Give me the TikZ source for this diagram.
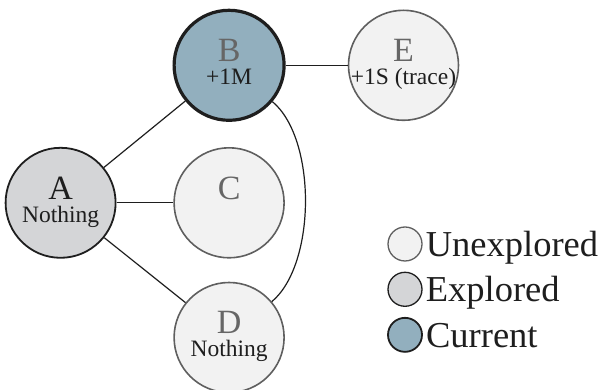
\documentclass[tikz,border=0pt]{standalone}
\usepackage{fontspec}
\setmainfont{Liberation Serif}
\usetikzlibrary{matrix,positioning,calc}

\definecolor{unexfill}{HTML}{F2F2F2}
\definecolor{unexline}{HTML}{5F5F5F}
\definecolor{expfill}{HTML}{D4D5D7}
\definecolor{curfill}{HTML}{92AFBE}
\definecolor{darkline}{HTML}{1E1E1E}
\definecolor{lettergrey}{HTML}{666666}

\begin{document}
\begin{tikzpicture}[x=1pt, y=1pt]
    \tikzstyle{state}=[circle, minimum size=110pt, inner sep=0pt, align=center, text=darkline, font=\fontsize{23.5}{23}\selectfont]
    \tikzstyle{unexplored}=[state, fill=unexfill, draw=unexline, line width=1.6pt]
    \tikzstyle{explored}=[state, fill=expfill, draw=darkline, line width=1.8pt]
    \tikzstyle{current}=[state, fill=curfill, draw=darkline, line width=3.2pt]
    \tikzstyle{link}=[draw=darkline, line width=1.2pt]
    \tikzstyle{legdot}=[minimum size=34pt, line width=1.3pt]
    \tikzstyle{legtext}=[font=\fontsize{36.5}{36}\selectfont, text=darkline, text height=25pt, text depth=0pt, inner sep=0pt]
    \useasboundingbox (0,0) rectangle (607,390);
    \matrix[ampersand replacement=\&] at (232,189)
    {
      \&[56pt] \node[current] (B) {{\color{lettergrey}\fontsize{34}{23}\selectfont B}\\\color{darkline}+1M\strut}; \&[62pt] \node[unexplored] (E) {{\color{lettergrey}\fontsize{34}{23}\selectfont E}\\\makebox[90pt]{+1S (trace)}\strut};\\[25pt]
      \node[explored] (A) {{\fontsize{34}{23}\selectfont A}\\Nothing\strut}; \& \node[unexplored] (C) {{\color{lettergrey}\fontsize{34}{23}\selectfont C}\\\strut}; \& \\[23pt]
      \& \node[unexplored] (D) {{\color{lettergrey}\fontsize{34}{23}\selectfont D}\\Nothing\strut}; \& \\
    };
    \draw[link] (A) -- (B);
    \draw[link] (A) -- (C);
    \draw[link] (A) -- (D);
    \draw[link] (B) -- (E);
    \draw[link] (B.-40) .. controls +(-40:58) and +(40:58) .. (D.40);
    % legend
    \node[unexplored, legdot] (unexdot) at (405,146) {};
    \node[explored, legdot, below=10pt of unexdot] (expdot) {};
    \node[current, legdot, line width=1.8pt, below=10pt of expdot] (curdot) {};
    \node[legtext, right=3pt of unexdot] (unextext) {Unexplored};
    \node[legtext, right=3pt of expdot] (exptext) {Explored};
    \node[legtext, right=3pt of curdot] (curtext) {Current};
\end{tikzpicture}
\end{document}
